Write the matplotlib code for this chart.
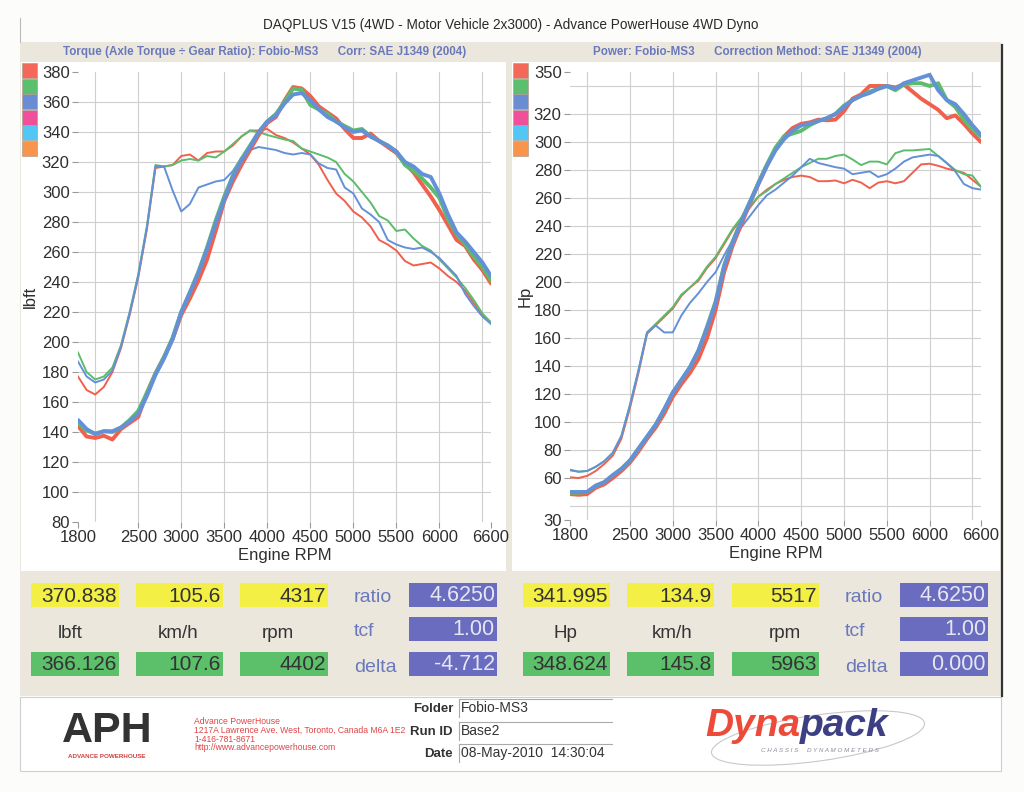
import matplotlib
matplotlib.use("Agg")
import matplotlib.pyplot as plt
from matplotlib.patches import Rectangle, Ellipse
import numpy as np

plt.rcParams['font.family'] = ['Liberation Sans', 'DejaVu Sans']

# ---------------- data ----------------
rpm = [1800,1900,2000,2100,2200,2300,2400,2500,2600,2700,2800,2900,3000,3100,3200,3300,3400,
       3500,3600,3700,3800,3900,4000,4100,4200,4300,4400,4500,4600,4700,4800,4900,5000,5100,
       5200,5300,5400,5500,5600,5700,5800,5900,6000,6100,6200,6300,6400,6500,6600]

# torque, high gear runs (thick)
tq_red_hi = [144,137,136,137.5,135,142,146,150,166,179,190,202,218,229,241,255,274,
             294,307,318,328,338,346,350,361,370,369,364,357,353,349,342,336,336,
             339,334,330,326,319,313,305,297,288,278,268,264,255,248,239]
tq_green_hi = [146,141,139,140.5,140,143,148,154,166,179,190,203,220,233,247,263,281,
               297,311,322,331,340,347,352,360,369,368,358,355,352,347,344,341,342,
               337,334,331,327,318,314,309,303,296,282,272,265,257,250,241]
tq_blue_hi = [148,142,138.5,140.5,140.5,143,147,152,164,178,189,202,220,233,246,262,279,
              295,310,321,330,340,347,351,359,365,366,361,355,350,347,343,340,341,
              337,334,331,327,320,317,312,310,299,285,273,267,260,253,244]

# torque, low gear runs (thin)
tq_red_lo = [177,168,165,170,180,196,218,243,275,316,317,318,324,325,321,326,327,
             327,331,337,341,341,342,338,336,333,329,325,318,308,299,294,287,283,
             277,268,265,261,254,251,252,253,249,244,240,234,226,218,213]
tq_green_lo = [193,180,175,177,183,198,220,245,277,318,317,318,321,322,321,324,323,
               327,332,337,341,340,338,336.5,335,334,329,327,325,323,320,312,307,300,
               293,284,281,274,275,269,264,261,255,249,243,236,228,219,213]
tq_blue_lo = [187,177,173,175,181,197,219,244,276,317,317,301,287,292,303,305,307,
              308,314,323,328,330,329,328,326,325,326,325,319,316,315,303,299,289,
              285,280,268,265,263,262,263,260,256,250,244,232,224,217,212]

# power, high gear runs (thick)
hp_red_hi = [48.5,48,48.5,53,55.5,60,65,71,79,88,96,106,118,127,135,145,160,
             180,207,226,241,256,270,283,295,304,310,313,314,316,315.5,316,322,331,
             334,340,340,340,339,341,336,331,327,323,317,319,313,306,300]
hp_green_hi = [49.5,49.5,50,54.5,57,62,66.5,72.5,81,89.5,98,109,121,130,139,151,168,
               186,212,229,244,257,271,284,296,304,306,308,312,315,317,320,326,330,
               333,336,338,340,337,341,342,342,340,342,330,325,316,309,304]
hp_blue_hi = [50,50,50,54.5,57,62,66.5,72.5,81,89.5,98,109,121,130,139,151,167,
              185,211,228,243,257,270,283,294,302,308,312,313,315,317,320,325,330,
              333,335,338,340,338,342,344,346,348,337,330,327,320,312,305]

# power, low gear runs (thin)
hp_red_lo = [60.5,60,61.5,65,70,76,88,110,135,163,169,175,181,190,196,201,210,
             217,227,237,245,253,261,266,270,273,275,276,275,272,272,272.5,270.5,273,
             271,267,271,272,270.5,272,278,284,284.5,283,281,279.5,278,273,268]
hp_green_lo = [66,64.5,65,68,72,78,90,112,137,164,170,176,182,191,196,202,211,
               218,228,238,246,254,261,265,270,274,278,282,285,288,288,290,291,287.5,
               283.5,286,286,284,292,294,294,294.5,295,290,285,280,277,276,268]
hp_blue_lo = [65.5,64.5,65,68,72,78,90,112,137,164,169,164,164,176,185,192,200,
              207,219,230,239,247,255,262,266,271,276,282,288,285,283.5,282,281,277,
              278,279,275,277,281,286,289,290,291,290,285,279,270,267,266]

x_ticks = [1800,2500,3000,3500,4000,4500,5000,5500,6000,6600]
tq_ticks = [80,100,120,140,160,180,200,220,240,260,280,300,320,340,360,380]
hp_ticks = [30,60,80,100,120,140,160,180,200,220,240,260,280,300,320,350]

readout_tq_top = ["370.838", "105.6", "4317"]
readout_tq_bot = ["366.126", "107.6", "4402"]
readout_tq_units = ["lbft", "km/h", "rpm"]
readout_tq_side = ["4.6250", "1.00", "-4.712"]
readout_hp_top = ["341.995", "134.9", "5517"]
readout_hp_bot = ["348.624", "145.8", "5963"]
readout_hp_units = ["Hp", "km/h", "rpm"]
readout_hp_side = ["4.6250", "1.00", "0.000"]
side_labels = ["ratio", "tcf", "delta"]

# ---------------- style ----------------
RED = '#f0604c'
GREEN = '#5cbc6c'
BLUE = '#6490d8'
SWATCH = ['#f4685a', '#5cbf6e', '#6a8cd2', '#f0509a', '#52c6f4', '#f9944c']
BEIGE = '#ebe7dd'
LBLUE = '#6a78bc'
W, H = 1024, 792

fig = plt.figure(figsize=(W/100, H/100), dpi=100)
fig.patch.set_facecolor('#fcfcfa')

bg = fig.add_axes([0, 0, 1, 1], zorder=0)
bg.set_xlim(0, W)
bg.set_ylim(H, 0)
bg.axis('off')

def rect(x0, y0, x1, y1, fc, ec='none', lw=0, z=1):
    bg.add_patch(Rectangle((x0, y0), x1-x0, y1-y0, facecolor=fc, edgecolor=ec, lw=lw, zorder=z))

# page frame
rect(20, 42, 1001, 696, BEIGE)
rect(21, 62, 506, 571, 'white', z=2)
rect(512, 62, 1000, 571, 'white', z=2)
rect(20, 697, 1001, 771, 'white', ec='#cfcfcf', lw=0.8, z=2)
bg.plot([1002, 1002], [45, 696], color='#333333', lw=1.6, zorder=3)
bg.plot([20, 20], [18, 42], color='#bbbbbb', lw=0.8, zorder=3)

bg.text(511, 25, "DAQPLUS V15 (4WD - Motor Vehicle 2x3000) - Advance PowerHouse 4WD Dyno",
        ha='center', va='center', fontsize=9.8, color='#2a2a2a', zorder=4)
bg.text(265, 52, "Torque (Axle Torque \u00f7 Gear Ratio): Fobio-MS3      Corr: SAE J1349 (2004)",
        ha='center', va='center', fontsize=8.4, color=LBLUE, fontweight='bold', zorder=4)
bg.text(757, 52, "Power: Fobio-MS3      Correction Method: SAE J1349 (2004)",
        ha='center', va='center', fontsize=8.4, color=LBLUE, fontweight='bold', zorder=4)

# colour swatches
for x0 in (22, 513):
    for i, c in enumerate(SWATCH):
        y0 = 63 + i*15.5
        rect(x0, y0, x0+15, y0+15, c, ec='#b0a090', lw=0.5, z=4)

# ---------------- plots ----------------
def px_axes(x0, y0, x1, y1):
    return fig.add_axes([x0/W, 1-y1/H, (x1-x0)/W, (y1-y0)/H], zorder=5)

def style(ax, yticks, ylim, ygrid, ylabel, lab_x):
    ax.set_facecolor('none')
    ax.set_xlim(1800, 6600)
    ax.set_ylim(*ylim)
    for s in ax.spines.values():
        s.set_visible(False)
    for g in range(2000, 6600, 500):
        ax.axvline(g, color='#cfcfcf', lw=0.8, zorder=0)
    for g in ygrid:
        ax.axhline(g, color='#cfcfcf', lw=0.8, zorder=0)
    ax.set_xticks(x_ticks)
    ax.set_yticks(yticks)
    ax.tick_params(axis='both', length=4, width=0.8, color='#999999', labelsize=12,
                   labelcolor='#2e2e2e', pad=2)
    ax.set_xlabel("Engine RPM", fontsize=12, color='#2e2e2e', labelpad=2)
    ax.set_ylabel(ylabel, fontsize=12, color='#2e2e2e')
    ax.yaxis.set_label_coords(lab_x, 0.5)

ax1 = px_axes(78, 72, 491, 522)
style(ax1, tq_ticks, (80, 380), range(100, 380, 20), "lbft", -0.097)
for y, c in ((tq_red_lo, RED), (tq_green_lo, GREEN), (tq_blue_lo, BLUE)):
    ax1.plot(rpm, y, color=c, lw=1.4, zorder=3, solid_joinstyle='round')
for y, c in ((tq_red_hi, RED), (tq_green_hi, GREEN), (tq_blue_hi, BLUE)):
    ax1.plot(rpm, y, color=c, lw=2.8, zorder=4, solid_joinstyle='round', solid_capstyle='round')

ax2 = px_axes(570, 72, 981, 520)
style(ax2, hp_ticks, (30, 350), range(40, 350, 20), "Hp", -0.092)
for y, c in ((hp_red_lo, RED), (hp_green_lo, GREEN), (hp_blue_lo, BLUE)):
    ax2.plot(rpm, y, color=c, lw=1.4, zorder=3, solid_joinstyle='round')
for y, c in ((hp_red_hi, RED), (hp_green_hi, GREEN), (hp_blue_hi, BLUE)):
    ax2.plot(rpm, y, color=c, lw=2.8, zorder=4, solid_joinstyle='round', solid_capstyle='round')

# ---------------- readouts ----------------
YEL = '#f4ef45'
GRN = '#5cbf6a'
PUR = '#6a6cc0'

def readout(xs, xl, side_x, px0, top, bot, units, side):
    for (x0, x1), t, b in zip(xs, top, bot):
        rect(x0, 583, x1, 607, YEL, z=3)
        bg.text(x1-2, 596, t, ha='right', va='center', fontsize=15, color='#333333', zorder=4)
        rect(x0, 652, x1, 676, GRN, z=3)
        bg.text(x1-2, 665, b, ha='right', va='center', fontsize=15, color='#333333', zorder=4)
    for xc, u in zip(xl, units):
        bg.text(xc, 633, u, ha='center', va='center', fontsize=13.5, color='#333333', zorder=4)
    for i, (lab, val) in enumerate(zip(side_labels, side)):
        yc = [598, 632, 667][i]
        bg.text(side_x, yc, lab, ha='left', va='center', fontsize=14, color=LBLUE, zorder=4)
        yb = [583, 617, 652][i]
        rect(px0, yb, px0+88, yb+24, PUR, z=3)
        bg.text(px0+86, yb+12.5, val, ha='right', va='center', fontsize=15.5, color='#e6e6f2', zorder=4)

readout([(31, 119), (136, 223), (240, 328)], [70, 178, 278], 354, 409,
        readout_tq_top, readout_tq_bot, readout_tq_units, readout_tq_side)
readout([(523, 610), (627, 714), (732, 819)], [565, 672, 785], 845, 900,
        readout_hp_top, readout_hp_bot, readout_hp_units, readout_hp_side)

# ---------------- footer ----------------
bg.text(107, 731, "APH", ha='center', va='center', fontsize=31, fontweight='heavy',
        color='#333333', zorder=4)
bg.text(107, 757, "ADVANCE POWERHOUSE", ha='center', va='center', fontsize=4.5,
        fontweight='bold', color='#d04040', zorder=4)
addr = ["Advance PowerHouse",
        "1217A Lawrence Ave. West, Toronto, Canada M6A 1E2",
        "1-416-781-8671",
        "http://www.advancepowerhouse.com"]
for i, line in enumerate(addr):
    bg.text(194, 721 + i*9, line, ha='left', va='center', fontsize=6.2, color='#e04444', zorder=4)

for lab, val, yc in (("Folder", "Fobio-MS3", 708), ("Run ID", "Base2", 731), ("Date", "08-May-2010  14:30:04", 753)):
    bg.text(453, yc+1, lab, ha='right', va='center', fontsize=9.5, fontweight='bold', color='#333333', zorder=4)
    bg.plot([459, 459], [yc-9, yc+9], color='#aaaaaa', lw=0.8, zorder=4)
    bg.plot([459, 612], [yc-9, yc-9], color='#aaaaaa', lw=0.8, zorder=4)
    bg.text(461, yc, val, ha='left', va='center', fontsize=10, color='#333333', zorder=4)

bg.add_patch(Ellipse((818, 738), 215, 46, angle=-8, fill=False, ec='#c8c8c8', lw=0.8, zorder=3))
bg.text(800, 726, "Dyna", ha='right', va='center', fontsize=28, fontweight='heavy', fontstyle='italic',
        color='#ee4a3a', zorder=4)
bg.text(800, 726, "pack", ha='left', va='center', fontsize=28, fontweight='heavy', fontstyle='italic',
        color='#3c3f84', zorder=4)
bg.text(820, 751, "C H A S S I S     D Y N A M O M E T E R S", ha='center', va='center', fontsize=4.5,
        fontstyle='italic', color='#8a8a9a', zorder=5)

fig.savefig("out.png", dpi=100, facecolor=fig.get_facecolor())
